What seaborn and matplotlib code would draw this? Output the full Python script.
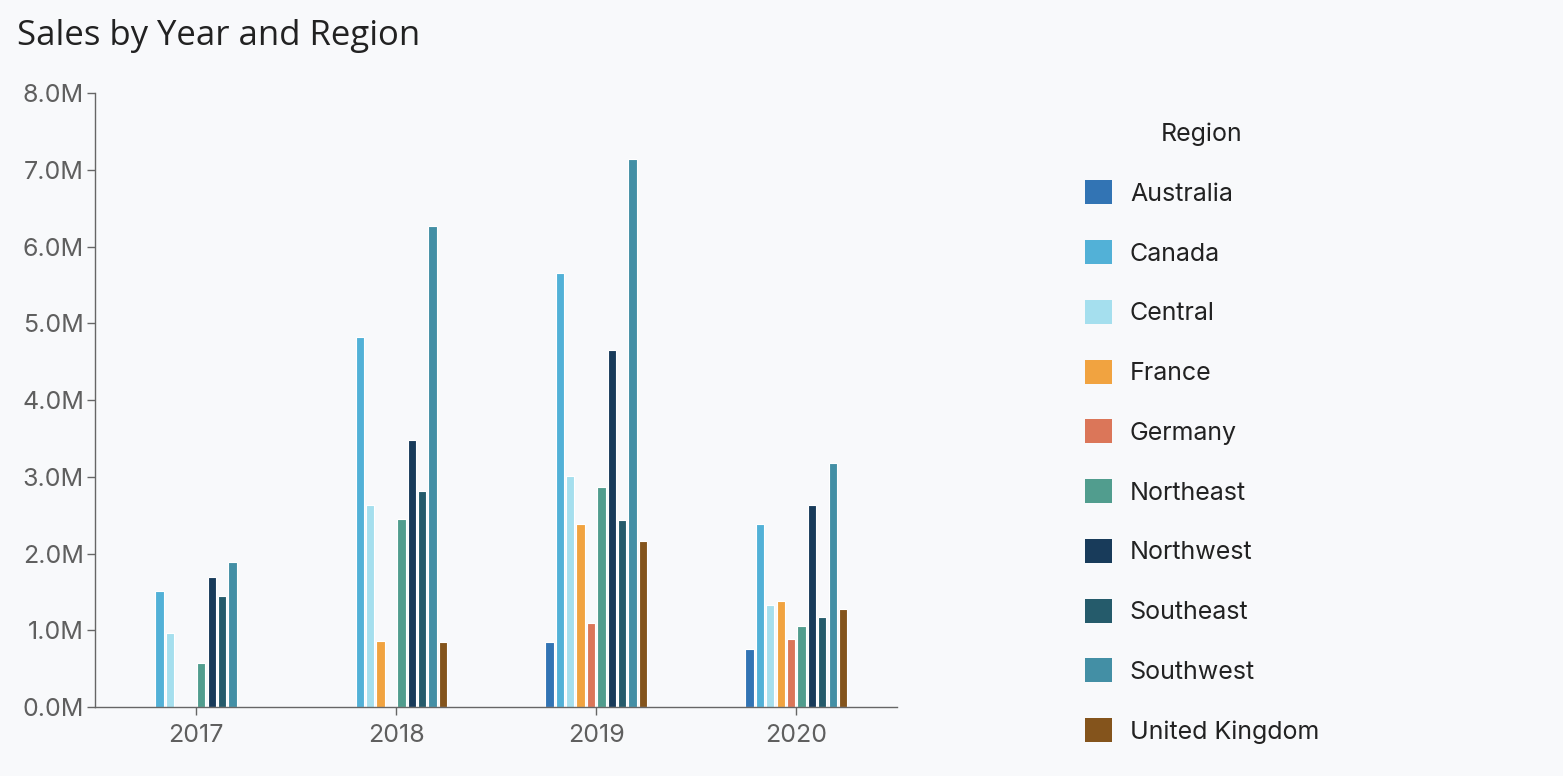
import matplotlib
matplotlib.use('Agg')
import matplotlib.pyplot as plt
import numpy as np
import pandas as pd
import seaborn as sns
from matplotlib.ticker import FuncFormatter, MultipleLocator

years = ['2017', '2018', '2019', '2020']
regions = ['Australia', 'Canada', 'Central', 'France', 'Germany', 'Northeast',
           'Northwest', 'Southeast', 'Southwest', 'United Kingdom']
colors = ['#3274b4', '#52b1d7', '#a5dfee', '#f1a340', '#db7659', '#519d8e',
          '#183b5a', '#255b6b', '#438fa5', '#84541c']

# sales in millions, None = no sales that year
australia = [None, None, 0.85, 0.75]
canada = [1.51, 4.82, 5.65, 2.39]
central = [0.96, 2.63, 3.01, 1.33]
france = [None, 0.86, 2.38, 1.38]
germany = [None, None, 1.09, 0.89]
northeast = [0.57, 2.45, 2.87, 1.06]
northwest = [1.69, 3.48, 4.65, 2.63]
southeast = [1.45, 2.81, 2.44, 1.17]
southwest = [1.89, 6.27, 7.14, 3.18]
united_kingdom = [None, 0.85, 2.16, 1.28]

series = [australia, canada, central, france, germany, northeast,
          northwest, southeast, southwest, united_kingdom]

rows = []
for region, vals in zip(regions, series):
    for year, v in zip(years, vals):
        if v is not None:
            rows.append({'Year': year, 'Region': region, 'Sales': v * 1e6})
df = pd.DataFrame(rows)

bg = '#f8f9fb'
sns.set_style('ticks')
plt.rcParams['font.family'] = ['Inter', 'DejaVu Sans']

fig = plt.figure(figsize=(15.63, 7.76), dpi=100, facecolor=bg)
ax = fig.add_axes([0.0608, 0.0889, 0.5133, 0.7911], facecolor=bg)

sns.barplot(data=df, x='Year', y='Sales', hue='Region', order=years,
            hue_order=regions, palette=colors, saturation=1, width=0.52, gap=0.2,
            edgecolor='#ffffff', linewidth=0.8, ax=ax, legend=False)

ax.set_xlim(-0.505, 3.505)
ax.set_ylim(0, 8e6)
ax.yaxis.set_major_locator(MultipleLocator(1e6))
ax.yaxis.set_major_formatter(FuncFormatter(lambda v, p: f'{v / 1e6:.1f}M'))
ax.set_xlabel('')
ax.set_ylabel('')
for s in ['top', 'right']:
    ax.spines[s].set_visible(False)
for s in ['left', 'bottom']:
    ax.spines[s].set_color('#666666')
    ax.spines[s].set_linewidth(1.0)
ax.tick_params(axis='both', which='major', left=True, bottom=True, length=6,
               width=1, color='#666666', labelcolor='#5f5f5f', labelsize=18, pad=2)
ax.tick_params(axis='x', pad=6)

fig.text(0.011, 0.953, 'Sales by Year and Region', fontsize=25, color='#222222',
         family=['Open Sans', 'DejaVu Sans'], weight='medium', va='center', ha='left')

handles = [plt.Rectangle((0, 0), 1, 1, facecolor=c, edgecolor='none') for c in colors]
leg = fig.legend(handles, regions, title='Region', loc='upper left',
                 bbox_to_anchor=(0.6797, 0.871), frameon=False, fontsize=18,
                 title_fontsize=18, handlelength=1.1, handleheight=1.1,
                 handletextpad=0.7, labelspacing=1.37, borderpad=0.4)
for t in leg.get_texts():
    t.set_color('#222222')
leg.get_title().set_color('#222222')

fig.savefig('out.png', dpi=100, facecolor=bg)
